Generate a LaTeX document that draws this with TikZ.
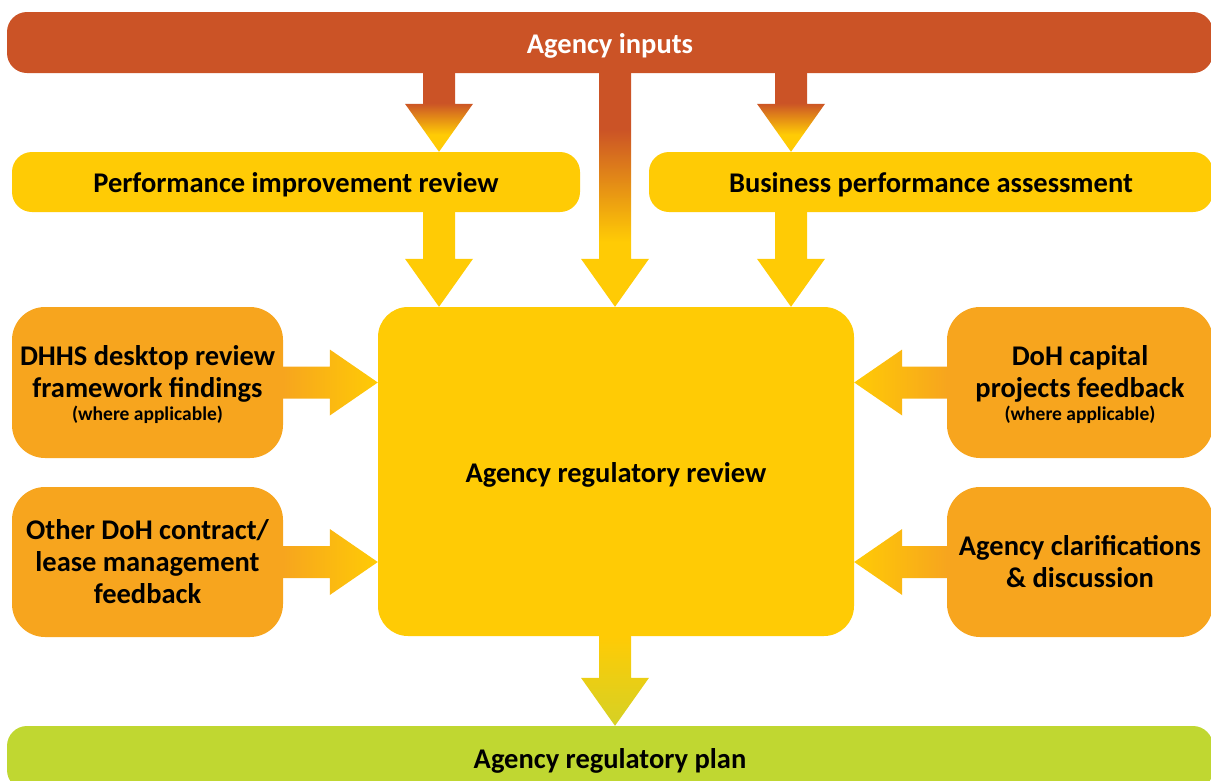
\documentclass[tikz,border=0pt]{standalone}
\usepackage{fontspec}
\setmainfont{Carlito}
\usetikzlibrary{calc}
\definecolor{redc}{HTML}{CB5326}
\definecolor{yellowc}{HTML}{FFCB05}
\definecolor{orangec}{HTML}{F7A51E}
\definecolor{greenc}{HTML}{C0D731}
\definecolor{tipc}{HTML}{D5D125}
\pgfdeclareverticalshading{shortred}{100bp}{color(0bp)=(yellowc); color(36bp)=(yellowc); color(56bp)=(redc); color(100bp)=(redc)}
\pgfdeclareverticalshading{longred}{100bp}{color(0bp)=(yellowc); color(39bp)=(yellowc); color(63bp)=(redc); color(100bp)=(redc)}
\newcommand{\varrowshape}[3]{%
  \path[#3] ($(#1)+(-16,0)$) -- ($(#2)+(-16,-48)$) -- ($(#2)+(-34,-48)$) -- (#2)
    -- ($(#2)+(34,-48)$) -- ($(#2)+(16,-48)$) -- ($(#1)+(16,0)$) -- cycle;}
\newcommand{\rarrowshape}[3]{%
  \path[#3] ($(#1)+(0,-16)$) -- ($(#2)+(-48,-16)$) -- ($(#2)+(-48,-33)$) -- (#2)
    -- ($(#2)+(-48,33)$) -- ($(#2)+(-48,16)$) -- ($(#1)+(0,16)$) -- cycle;}
\newcommand{\larrowshape}[3]{%
  \path[#3] ($(#1)+(0,-16)$) -- ($(#2)+(48,-16)$) -- ($(#2)+(48,-33)$) -- (#2)
    -- ($(#2)+(48,33)$) -- ($(#2)+(48,16)$) -- ($(#1)+(0,16)$) -- cycle;}
\newcommand{\smalltext}[1]{{\fontsize{19.5}{22}\selectfont #1}}
\newcommand{\toprule}{\rule{0pt}{25pt}}
\begin{document}
\begin{tikzpicture}[x=1pt,y=-1pt,
  base/.style={inner sep=0pt, align=center, text=black,
    font=\fontsize{28.5}{32}\selectfont\bfseries},
  oneline/.style={base, text height=21pt, text depth=0pt},
  bar/.style={oneline, rounded corners=20pt},
  sidebox/.style={base, fill=orangec, rounded corners=33pt,
    minimum width=268pt, minimum height=151pt}]
\useasboundingbox (0,0) rectangle (1211,780);
\clip (0,0) rectangle (1211,780);
% nodes
\node[bar, fill=redc, text=white, minimum width=1206pt, minimum height=61pt] (ai) at (610,42.5) {Agency inputs};
\node[bar, fill=yellowc, minimum width=568pt, minimum height=60pt] (pir) at (296,182) {Performance improvement review};
\node[bar, fill=yellowc, minimum width=564pt, minimum height=60pt] (bpa) at (931,182) {Business performance assessment};
\node[oneline, fill=yellowc, rounded corners=30pt, minimum width=476pt, minimum height=329pt] (arr) at (616,471.5) {Agency regulatory review};
\node[sidebox, minimum width=271pt] (dhhs) at (147.5,382.5) {\toprule DHHS desktop review\\framework findings\\[-9pt]\smalltext{(where applicable)}};
\node[sidebox, minimum width=271pt, minimum height=150pt] (other) at (147.5,562) {Other DoH contract/\\lease management\\feedback};
\node[sidebox, minimum width=266pt] (doh) at (1080,382.5) {\toprule DoH capital\\projects feedback\\[-9pt]\smalltext{(where applicable)}};
\node[sidebox, minimum width=266pt, minimum height=150pt] (clar) at (1080,562) {Agency clarifications\\\& discussion};
\node[bar, fill=greenc, minimum width=1206pt, minimum height=64pt] (arp) at (610,758) {Agency regulatory plan};
% helper coordinates
\coordinate (xl) at (439,0);
\coordinate (xm) at (615,0);
\coordinate (xr) at (791,0);
\coordinate (a1s) at (ai.south -| xl);
\coordinate (a1t) at (pir.north -| xl);
\coordinate (a2s) at (ai.south -| xm);
\coordinate (a2t) at (arr.north -| xm);
\coordinate (a3s) at (ai.south -| xr);
\coordinate (a3t) at (bpa.north -| xr);
\coordinate (p1s) at (pir.south -| xl);
\coordinate (p1t) at (arr.north -| xl);
\coordinate (p2s) at (bpa.south -| xr);
\coordinate (p2t) at (arr.north -| xr);
\coordinate (d1t) at (dhhs.east -| arr.west);
\coordinate (d2t) at (other.east -| arr.west);
\coordinate (d3t) at (doh.west -| arr.east);
\coordinate (d4t) at (clar.west -| arr.east);
\coordinate (bs) at (arr.south -| xm);
\coordinate (bt) at (arp.north -| xm);
% arrows
\varrowshape{a1s}{a1t}{shading=shortred}
\varrowshape{a3s}{a3t}{shading=shortred}
\varrowshape{a2s}{a2t}{shading=longred}
\varrowshape{p1s}{p1t}{fill=yellowc}
\varrowshape{p2s}{p2t}{fill=yellowc}
\varrowshape{bs}{bt}{top color=yellowc, bottom color=tipc}
\rarrowshape{dhhs.east}{d1t}{left color=orangec, right color=yellowc}
\rarrowshape{other.east}{d2t}{left color=orangec, right color=yellowc}
\larrowshape{doh.west}{d3t}{left color=yellowc, right color=orangec}
\larrowshape{clar.west}{d4t}{left color=yellowc, right color=orangec}
\end{tikzpicture}
\end{document}
